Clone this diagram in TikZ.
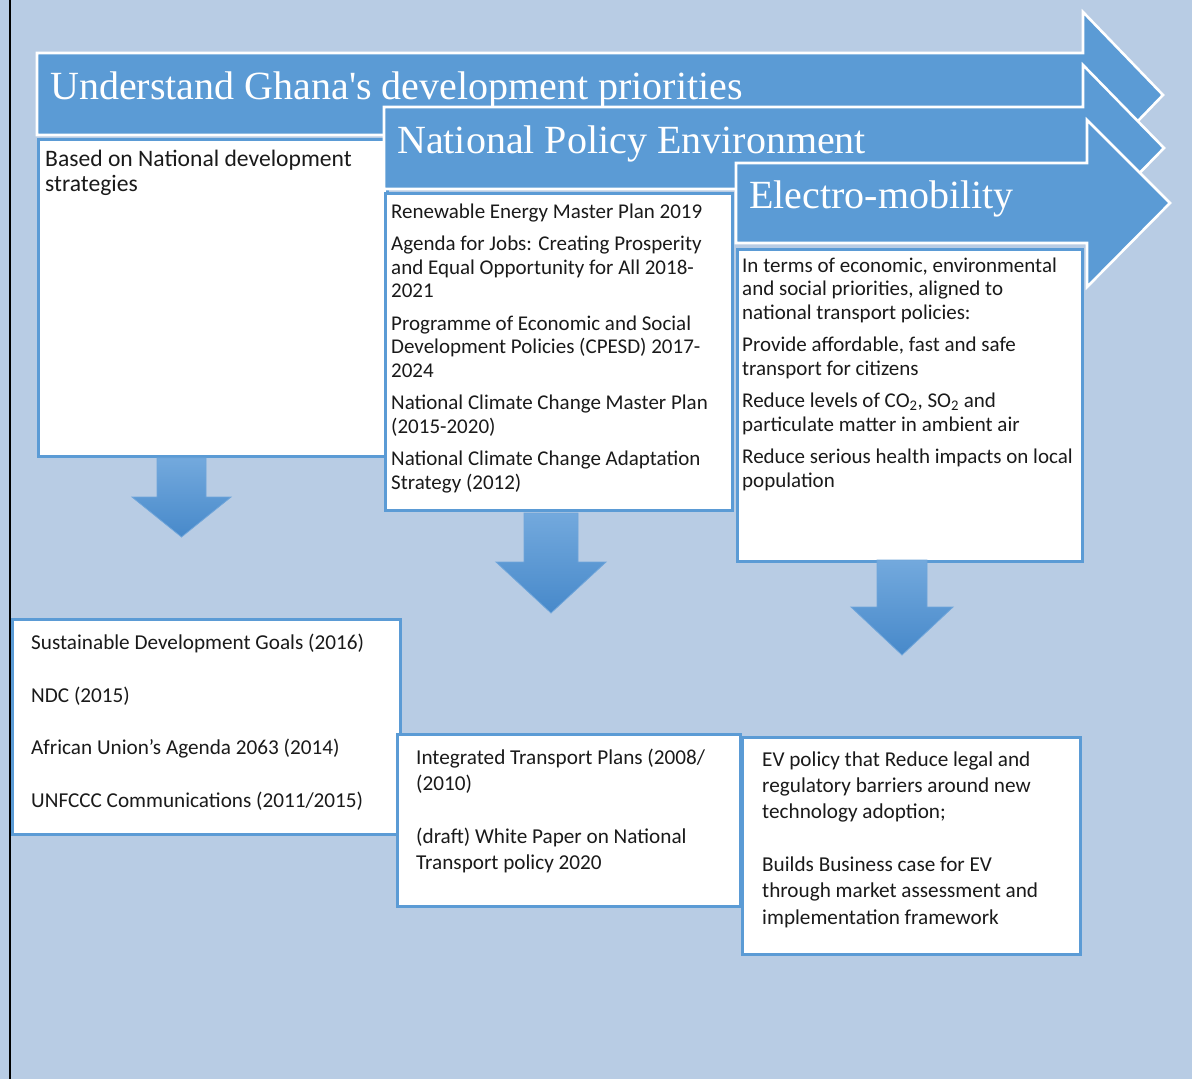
\documentclass[tikz,border=0pt]{standalone}
\usepackage{fontspec}
\setmainfont{Carlito}
\newfontfamily\titlefont{Liberation Serif}[Ligatures=TeXOff]
\definecolor{bgc}{HTML}{B8CCE4}
\definecolor{arrc}{HTML}{5B9BD5}
\definecolor{boxc}{HTML}{5B9BD5}
\definecolor{dtop}{HTML}{73A9DD}
\definecolor{dbot}{HTML}{4789CA}
\definecolor{dline}{HTML}{6FA5DA}
\definecolor{txtc}{HTML}{1A1A1A}
\begin{document}
\begin{tikzpicture}[x=1bp,y=-1bp,
  chevron/.style={fill=arrc, draw=white, line width=2.6bp, line join=miter},
  tbox/.style={draw=boxc, fill=white, line width=2.5bp, anchor=north west, inner sep=0pt},
  title/.style={anchor=base west, inner sep=0pt, text=white, font=\titlefont\fontsize{40bp}{48bp}\selectfont},
  txt/.style={anchor=north west, inner sep=0pt, align=left, text=txtc, font=\fontsize{21bp}{23.5bp}\selectfont},
  txtb/.style={anchor=north west, inner sep=0pt, align=left, text=txtc, font=\fontsize{21.2bp}{26.3bp}\selectfont},
  downarr/.style={top color=dtop, bottom color=dbot, draw=dline, line width=0.8bp}
]
\useasboundingbox (0,0) rectangle (1192,1079);
\fill[bgc] (0,0) rectangle (1192,1079);
\draw[black, line width=2.2bp] (10,0) -- (10,1079);

% chevron 1
\draw[chevron] (37,53) -- (1083,53) -- (1083,12) -- (1163,95) -- (1083,178) -- (1083,135) -- (37,135) -- cycle;
\node[title] (t1) at (50,99) {Understand Ghana's development priorities};
\node[tbox, minimum width=349bp, minimum height=317bp] (b1) at (37,138) {};
\node[txt, font=\fontsize{23.6bp}{25bp}\selectfont] (x1) at (45,150) {\rule{0pt}{16bp}Based on National development\\strategies};

% chevron 2
\draw[chevron] (384,107) -- (1083,107) -- (1083,65) -- (1164,148) -- (1083,231) -- (1083,189) -- (384,189) -- cycle;
\node[title] (t2) at (397,153) {National Policy Environment};
\node[tbox, minimum width=347bp, minimum height=317bp] (b2) at (384,192) {};
\node[txt] (x2) at (391,202) {\rule{0pt}{16bp}Renewable Energy Master Plan 2019\\[9bp]
Agenda for Jobs: Creating Prosperity\\and Equal Opportunity for All 2018-\\2021\\[9bp]
Programme of Economic and Social\\Development Policies (CPESD) 2017-\\2024\\[9bp]
National Climate Change Master Plan\\(2015-2020)\\[9bp]
National Climate Change Adaptation\\Strategy (2012)};

% chevron 3
\draw[chevron] (736,163) -- (1087,163) -- (1087,120) -- (1170,203) -- (1087,287) -- (1087,243) -- (736,243) -- cycle;
\node[title] (t3) at (749,208) {Electro-mobility};
\node[tbox, minimum width=345bp, minimum height=312bp] (b3) at (736,248) {};
\node[txt] (x3) at (742,256) {\rule{0pt}{16bp}In terms of economic, environmental\\and social priorities, aligned to\\national transport policies:\\[9bp]
Provide affordable, fast and safe\\transport for citizens\\[9bp]
Reduce levels of CO\textsubscript{2}, SO\textsubscript{2} and\\particulate matter in ambient air\\[9bp]
Reduce serious health impacts on local\\population};

% down arrows
\path[downarr] (157,458) -- (206,458) -- (206,497) -- (231,497) -- (181.5,537) -- (132,497) -- (157,497) -- cycle;
\path[downarr] (524,513) -- (578,513) -- (578,562) -- (606,562) -- (551,613) -- (496,562) -- (524,562) -- cycle;
\path[downarr] (877,560) -- (927,560) -- (927,607) -- (953,607) -- (902,655) -- (851,607) -- (877,607) -- cycle;

% bottom boxes
\node[tbox, minimum width=388bp, minimum height=215bp] (b4) at (11,618) {};
\node[txtb] (x4) at (31,633) {\rule{0pt}{16bp}Sustainable Development Goals (2016)\\[26.5bp]
NDC (2015)\\[26.5bp]
African Union’s Agenda 2063 (2014)\\[26.5bp]
UNFCCC Communications (2011/2015)};

\node[tbox, minimum width=343bp, minimum height=172bp] (b5) at (396,733) {};
\node[txtb] (x5) at (416,748) {\rule{0pt}{16bp}Integrated Transport Plans (2008/\\(2010)\\[26.3bp]
(draft) White Paper on National\\Transport policy 2020};

\node[tbox, minimum width=338bp, minimum height=217bp] (b6) at (741,736) {};
\node[txtb] (x6) at (762,750) {\rule{0pt}{16bp}EV policy that Reduce legal and\\regulatory barriers around new\\technology adoption;\\[26.3bp]
Builds Business case for EV\\through market assessment and\\implementation framework};
\end{tikzpicture}
\end{document}
